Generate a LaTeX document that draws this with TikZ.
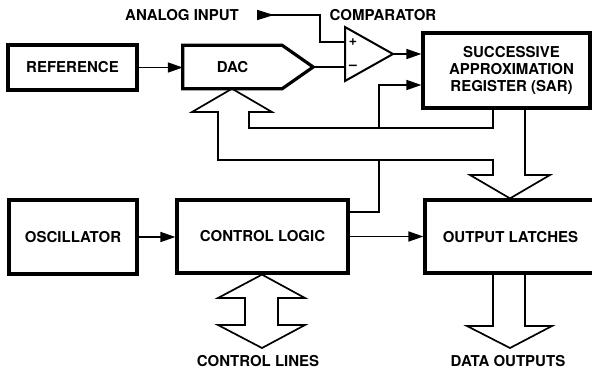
\documentclass[tikz,border=0pt]{standalone}
\usepackage{fontspec}
\setmainfont{TeX Gyre Heros}
\usetikzlibrary{arrows.meta}
\begin{document}
\begin{tikzpicture}[x=1pt,y=-1pt,
  lbl/.style={font=\fontsize{15}{17}\selectfont\bfseries, align=center, inner sep=0pt},
  blk/.style={draw, line width=3.2pt, inner sep=0pt},
  wire/.style={line width=1.6pt},
  arr/.style={wire, -{Triangle[length=15pt,width=10pt]}},
  bus/.style={line width=1.7pt, line join=miter}]
\useasboundingbox (0,0) rectangle (592,370);

% functional blocks
\node (ref) [blk, minimum width=129, minimum height=45] at (72.5,67.5) {};
\node [lbl] at (ref.center) {REFERENCE};
\node (osc) [blk, minimum width=128, minimum height=74] at (73,237) {};
\node [lbl] at (osc.center) {OSCILLATOR};
\node (ctl) [blk, minimum width=171, minimum height=73] at (262.5,236.5) {};
\node [lbl] at (ctl.center) {CONTROL LOGIC};
\node (sar) [blk, minimum width=167, minimum height=75] at (506.5,70.5) {};
\node [lbl] at ([xshift=5]sar.center) {SUCCESSIVE\\APPROXIMATION\\REGISTER (SAR)};
\node (lat) [blk, minimum width=180, minimum height=73] at (515,236.5) {};
\node [lbl] at (510.5,237) {OUTPUT LATCHES};

% DAC with pointed output side
\node (dac) [minimum width=99, minimum height=43, inner sep=0pt] at (232.5,67) {};
\node [lbl] at (dac.center) {DAC};
\coordinate (dacout) at ([xshift=31]dac.east);
\draw[line width=3.2pt, line join=miter]
  (dac.north west) -- (dac.north east) -- (dacout) -- (dac.south east)
  -- (dac.south west) -- cycle;

% comparator
\coordinate (cmpa) at (345,27);
\coordinate (cmpb) at (345,81);
\coordinate (cmpo) at (393,54);
\coordinate (cmpp) at (345,42);
\coordinate (cmpm) at (345,67);
\draw[line width=2pt, line join=miter] (cmpa) -- (cmpo) -- (cmpb) -- cycle;
\node [font=\fontsize{14}{14}\selectfont\bfseries, inner sep=0pt] at (353,42) {+};
\node [font=\fontsize{14}{14}\selectfont\bfseries, inner sep=0pt] at (353,67) {--};
\node (cmplbl) [lbl] at (383,15) {COMPARATOR};

% analog input
\node (ain) [lbl] at (182,15) {ANALOG INPUT};
\coordinate (ainst) at (257,15);
\draw[wire, {Triangle[reversed,length=17pt,width=10pt]}-] (ainst) -- (320,15) |- (cmpp);

% signal connectors
\draw[arr] (ref.east) -- (dac.west |- ref.east);
\draw[wire] (dacout) -- (cmpm);
\draw[arr] (cmpo) -- (sar.west |- cmpo);
\draw[arr] (osc.east) -- (ctl.west |- osc.east);
\draw[arr] (ctl.east) -- (lat.west |- ctl.east);
\coordinate (ctlout) at (ctl.east |- 0,212);
\draw[wire] (ctlout) -| (379,160);
\draw[arr] (379,128) |- (sar.west |- 0,85);

% data bus from SAR to DAC and to the output latches
\draw[bus] (sar.south -| 493,0) -- (493,128) -- (249,128) -- (249,112)
  -- (272,112) -- (dac.south -| 232,0) -- (192,112) -- (218,112) -- (218,160)
  -- (493,160) -- (493,175) -- (470,175) -- (lat.north -| 510,0)
  -- (550,175) -- (525,175) -- (sar.south -| 525,0);

% data outputs
\draw[bus] (lat.south -| 493,0) -- (493,326) -- (467,326) -- (510,348)
  -- (552,326) -- (525,326) -- (lat.south -| 525,0);
\node (dout) [lbl] at (508,361) {DATA OUTPUTS};

% control lines (bidirectional)
\draw[bus] (ctl.south -| 262,0) -- (305,298) -- (278,298) -- (278,325)
  -- (305,325) -- (262,348) -- (218,325) -- (245,325) -- (245,298)
  -- (218,298) -- cycle;
\node (clines) [lbl] at (258,361) {CONTROL LINES};
\end{tikzpicture}
\end{document}
